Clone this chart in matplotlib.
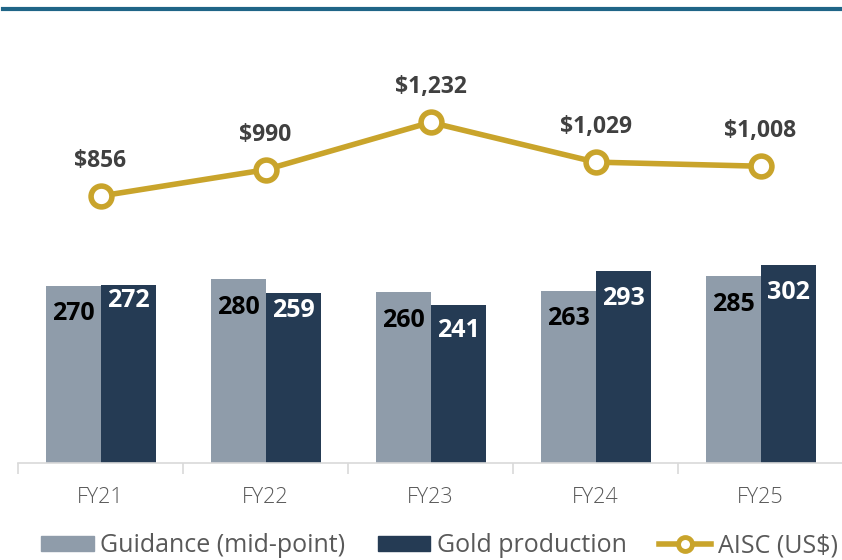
import numpy as np
import matplotlib.pyplot as plt
from matplotlib.lines import Line2D
from matplotlib.patches import Patch

# data
years = ['FY21', 'FY22', 'FY23', 'FY24', 'FY25']
guidance = [270, 280, 260, 263, 285]
production = [272, 259, 241, 293, 302]
aisc = [856, 990, 1232, 1029, 1008]

c_guid = '#8F9CAA'
c_prod = '#253B54'
c_gold = '#C9A42B'
c_text = '#404040'

plt.rcParams['font.family'] = ['Open Sans', 'DejaVu Sans']

fig = plt.figure(figsize=(8.42, 5.6), dpi=100)
W, H = 842, 560
# axes in pixel coords: left 18, right 843, bottom 463, top 40
ax = fig.add_axes([18 / W, 1 - 463 / H, 825 / W, (463 - 40) / H])
ax2 = ax.twinx()

x = np.arange(len(years))
bw = 1 / 3
ax.bar(x - bw / 2, guidance, bw, color=c_guid, zorder=2)
ax.bar(x + bw / 2, production, bw, color=c_prod, zorder=2)
ax.set_xlim(-0.5, len(years) - 0.5)
ax.set_ylim(0, 645)

# value labels inside bars (offsets in px below bar top)
g_off = [28, 28, 28, 28, 28]
p_off = [16, 17, 26, 28, 28]
for i in range(len(years)):
    ax.annotate(str(guidance[i]), (x[i] - bw / 2, guidance[i]),
                xytext=(0, -g_off[i] * 0.72), textcoords='offset points',
                ha='center', va='center', fontsize=18, fontweight='bold',
                color='black')
    ax.annotate(str(production[i]), (x[i] + bw / 2, production[i]),
                xytext=(0, -p_off[i] * 0.72), textcoords='offset points',
                ha='center', va='center', fontsize=18, fontweight='bold',
                color='white')

# AISC line on secondary axis
ax2.plot(x, aisc, color=c_gold, lw=4, marker='o', ms=15, mfc='white',
         mec=c_gold, mew=4, zorder=3)
ax2.set_ylim(-506, 1652)
for i in range(len(years)):
    ax2.annotate('${:,}'.format(aisc[i]), (x[i], aisc[i]),
                 xytext=(0, 35 * 0.72), textcoords='offset points',
                 ha='center', va='center', fontsize=16.5, fontweight='bold',
                 color=c_text)

# axes styling
for a in (ax, ax2):
    for s in ['top', 'right', 'left']:
        a.spines[s].set_visible(False)
    a.set_yticks([])
ax2.spines['bottom'].set_visible(False)
ax.spines['bottom'].set_color('#D9D9D9')
ax.spines['bottom'].set_linewidth(1.2)
ax.set_xticks(x)
ax.set_xticklabels(years, fontsize=15.5, color='#595959', fontweight='light')
ax.tick_params(axis='x', length=0, pad=17)
ax.set_xticks(np.arange(len(years) + 1) - 0.5, minor=True)
ax.tick_params(axis='x', which='minor', length=8, color='#D9D9D9', width=1.2)

# top rule
fig.add_artist(Line2D([3 / W, 1], [1 - 9 / H, 1 - 9 / H], color='#1F6587',
                      lw=3, transform=fig.transFigure))

# legend
handles = [Patch(color=c_guid, label='Guidance (mid-point)'),
           Patch(color=c_prod, label='Gold production'),
           Line2D([], [], color=c_gold, lw=4, marker='o', ms=10, mfc='white',
                  mec=c_gold, mew=3.5, label='AISC (US$)')]
fig.legend(handles=handles, loc='center', bbox_to_anchor=(0.522, 1 - 546 / H),
           ncol=3, frameon=False, fontsize=18, labelcolor='#595959',
           handlelength=2.1, handleheight=0.55, handletextpad=0.25,
           columnspacing=1.3, borderpad=0, borderaxespad=0)

fig.savefig('out.png', dpi=100, facecolor='white')
